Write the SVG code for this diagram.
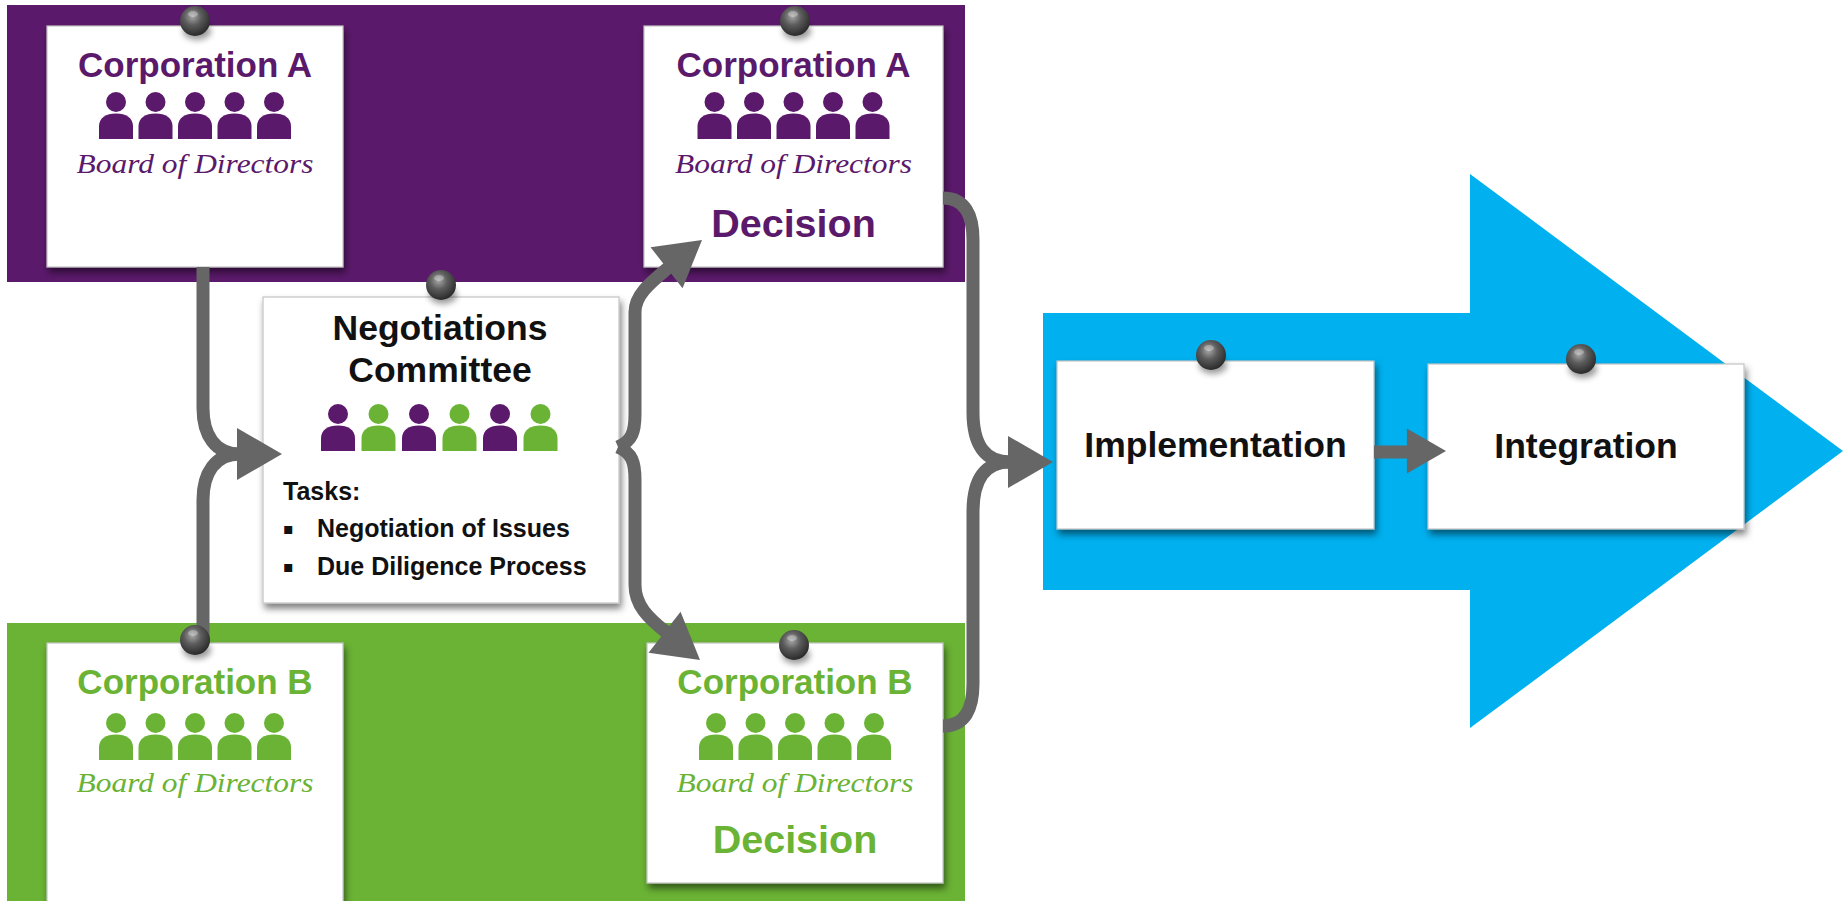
<svg xmlns="http://www.w3.org/2000/svg" xmlns:xlink="http://www.w3.org/1999/xlink" width="1843" height="901" viewBox="0 0 1843 901">
<style>
.sans{font-family:"Liberation Sans",Arial,sans-serif;font-weight:bold}
.corp{font-size:35px;text-anchor:middle}
.dec{font-size:39.5px;text-anchor:middle}
.board{font-family:"Liberation Serif","DejaVu Serif",serif;font-style:italic;font-size:28px;text-anchor:middle}
.purple{fill:#5b196b}
.green{fill:#6ab334}
.black{fill:#111}
.card{fill:#fff;stroke:#c4c4c4;stroke-width:1.2;filter:url(#shadow)}
.conn{fill:none;stroke:#666;stroke-width:13}
.ah{fill:#666}
.task{font-size:25px}
.bullet{font-family:"DejaVu Sans",sans-serif;font-size:16px}
.big{font-size:35.5px;text-anchor:middle}
</style>
<defs>
<filter id="shadow" x="-10%" y="-10%" width="125%" height="130%">
<feDropShadow dx="2" dy="5" stdDeviation="3.5" flood-color="#000" flood-opacity="0.5"/>
</filter>
<filter id="blur" x="-50%" y="-50%" width="200%" height="200%">
<feGaussianBlur stdDeviation="3"/>
</filter>
<radialGradient id="pinGrad" cx="42%" cy="35%" r="65%">
<stop offset="0" stop-color="#a8a8a8"/>
<stop offset="0.45" stop-color="#5c5c5c"/>
<stop offset="1" stop-color="#2a2a2a"/>
</radialGradient>
<g id="pin">
<ellipse cx="2" cy="10" rx="14" ry="9" fill="#000" opacity="0.4" filter="url(#blur)"/>
<circle r="15" fill="url(#pinGrad)"/>
<ellipse cx="-2" cy="-7" rx="5" ry="3" fill="#fff" opacity="0.3"/>
</g>
<g id="person">
<circle cx="17" cy="10" r="10"/>
<path d="M0,47 V34 C0,26 7,21.5 17,21.5 C27,21.5 34,26 34,34 V47 Z"/>
</g>
<polygon id="ah" points="0,0 -45,-26 -45,26"/>
</defs>

<rect width="1843" height="901" fill="#fff"/>

<g id="bands">
<rect x="7" y="5" width="958" height="277" fill="#5b196b"/>
<rect x="7" y="623" width="958" height="278" fill="#6ab334"/>
<polygon points="1043,313 1470,313 1470,174 1843,451 1470,728 1470,590 1043,590" fill="#00b0ef"/>
</g>

<g id="corpA-board">
<rect class="card" x="47" y="26" width="296" height="241"/>
<text class="sans corp purple" x="195" y="77">Corporation A</text>
<g class="purple">
<use xlink:href="#person" x="99" y="92"/>
<use xlink:href="#person" x="138.5" y="92"/>
<use xlink:href="#person" x="178" y="92"/>
<use xlink:href="#person" x="217.5" y="92"/>
<use xlink:href="#person" x="257" y="92"/>
</g>
<text class="board purple" x="195" y="173" textLength="237" lengthAdjust="spacingAndGlyphs">Board of Directors</text>
</g>

<g id="corpA-decision">
<rect class="card" x="644" y="26" width="299" height="241"/>
<text class="sans corp purple" x="793.5" y="77">Corporation A</text>
<g class="purple">
<use xlink:href="#person" x="697.5" y="92"/>
<use xlink:href="#person" x="737" y="92"/>
<use xlink:href="#person" x="776.5" y="92"/>
<use xlink:href="#person" x="816" y="92"/>
<use xlink:href="#person" x="855.5" y="92"/>
</g>
<text class="board purple" x="793.5" y="173" textLength="237" lengthAdjust="spacingAndGlyphs">Board of Directors</text>
<text class="sans dec purple" x="793.5" y="237">Decision</text>
</g>

<g id="negotiations">
<rect class="card" x="263" y="297" width="356" height="306"/>
<text class="sans big black" x="440" y="340">Negotiations</text>
<text class="sans big black" x="440" y="382">Committee</text>
<use xlink:href="#person" x="321" y="404" class="purple"/>
<use xlink:href="#person" x="361.5" y="404" class="green"/>
<use xlink:href="#person" x="402" y="404" class="purple"/>
<use xlink:href="#person" x="442.5" y="404" class="green"/>
<use xlink:href="#person" x="483" y="404" class="purple"/>
<use xlink:href="#person" x="523.5" y="404" class="green"/>
<text class="sans task black" x="283" y="500">Tasks:</text>
<text class="bullet black" x="283" y="534">▪</text>
<text class="sans task black" x="317" y="537">Negotiation of Issues</text>
<text class="bullet black" x="283" y="572">▪</text>
<text class="sans task black" x="317" y="575">Due Diligence Process</text>
</g>

<g id="corpB-board">
<rect class="card" x="47" y="643" width="296" height="270"/>
<text class="sans corp green" x="195" y="694">Corporation B</text>
<g class="green">
<use xlink:href="#person" x="99" y="713"/>
<use xlink:href="#person" x="138.5" y="713"/>
<use xlink:href="#person" x="178" y="713"/>
<use xlink:href="#person" x="217.5" y="713"/>
<use xlink:href="#person" x="257" y="713"/>
</g>
<text class="board green" x="195" y="792" textLength="237" lengthAdjust="spacingAndGlyphs">Board of Directors</text>
</g>

<g id="corpB-decision">
<rect class="card" x="647" y="643" width="296" height="240"/>
<text class="sans corp green" x="795" y="694">Corporation B</text>
<g class="green">
<use xlink:href="#person" x="699" y="713"/>
<use xlink:href="#person" x="738.5" y="713"/>
<use xlink:href="#person" x="778" y="713"/>
<use xlink:href="#person" x="817.5" y="713"/>
<use xlink:href="#person" x="857" y="713"/>
</g>
<text class="board green" x="795" y="792" textLength="237" lengthAdjust="spacingAndGlyphs">Board of Directors</text>
<text class="sans dec green" x="795" y="853">Decision</text>
</g>

<g id="implementation">
<rect class="card" x="1057" y="361" width="317" height="168"/>
<text class="sans big black" x="1215.5" y="457">Implementation</text>
</g>

<g id="integration">
<rect class="card" x="1428" y="364" width="316" height="165"/>
<text class="sans big black" x="1586" y="458">Integration</text>
</g>

<g id="connectors">
<path class="conn" d="M203,267 V408 C203,435 215,454 240,454"/>
<path class="conn" d="M203,643 V500 C203,473 215,454 240,454"/>
<use xlink:href="#ah" class="ah" transform="translate(282,454)"/>
<path class="conn" d="M618,447 C632,441 635,432 635,414 V312 C635,295 650,283 668,268"/>
<use xlink:href="#ah" class="ah" transform="translate(702,240) rotate(-38)"/>
<path class="conn" d="M618,447 C632,453 635,462 635,480 V585 C635,605 648,618 666,632"/>
<use xlink:href="#ah" class="ah" transform="translate(700,660) rotate(38)"/>
<path class="conn" d="M943,198 C965,198 973,215 973,240 V412 C973,445 985,462 1010,462"/>
<path class="conn" d="M943,726 C965,726 973,709 973,684 V512 C973,479 985,462 1010,462"/>
<use xlink:href="#ah" class="ah" transform="translate(1053,462)"/>
<path class="conn" d="M1374,452 H1412"/>
<use xlink:href="#ah" class="ah" transform="translate(1446,451) scale(0.87)"/>
</g>

<g id="pins">
<use xlink:href="#pin" x="195" y="21"/>
<use xlink:href="#pin" x="795" y="21"/>
<use xlink:href="#pin" x="441" y="285"/>
<use xlink:href="#pin" x="195" y="640"/>
<use xlink:href="#pin" x="794" y="645"/>
<use xlink:href="#pin" x="1211" y="355"/>
<use xlink:href="#pin" x="1581" y="359"/>
</g>
</svg>
